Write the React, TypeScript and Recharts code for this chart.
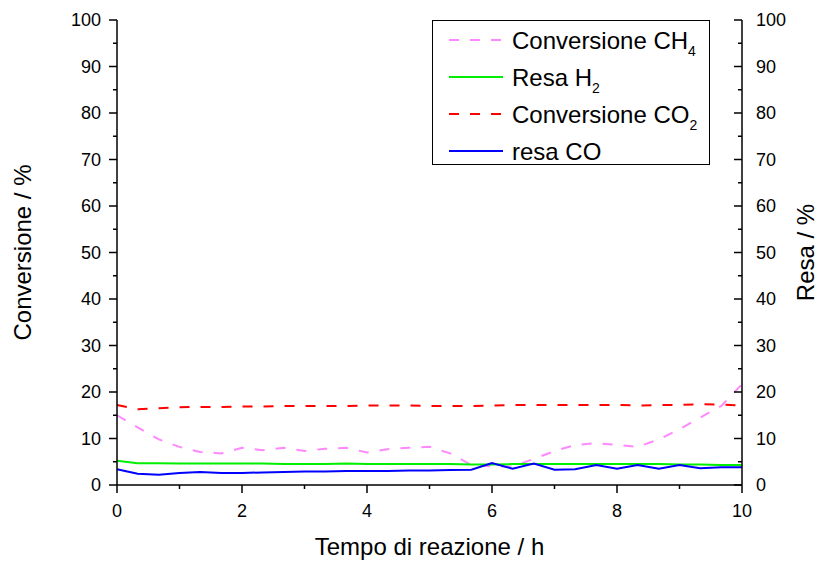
import React from "react";
import { LineChart, Line, XAxis, YAxis, Label } from "recharts";

// reaction time (h), one sample every 20 min
const TIME = [
  0, 0.33, 0.67, 1, 1.33, 1.67, 2, 2.33, 2.67, 3, 3.33, 3.67, 4, 4.33, 4.67, 5,
  5.33, 5.67, 6, 6.33, 6.67, 7, 7.33, 7.67, 8, 8.33, 8.67, 9, 9.33, 9.67, 10,
];

const CONV_CH4 = [
  15.0, 12.4, 9.8, 8.2, 7.1, 6.8, 8.0, 7.5, 8.0, 7.3, 7.8, 8.0, 7.0, 7.7, 8.0,
  8.2, 6.8, 4.3, 4.0, 4.0, 5.6, 7.3, 8.6, 9.0, 8.6, 8.2, 9.8, 12.0, 14.5, 17.0,
  21.7,
];
const RESA_H2 = [
  5.2, 4.7, 4.7, 4.6, 4.6, 4.6, 4.6, 4.6, 4.5, 4.5, 4.5, 4.6, 4.5, 4.5, 4.5,
  4.5, 4.5, 4.4, 4.4, 4.5, 4.5, 4.5, 4.5, 4.5, 4.5, 4.5, 4.5, 4.4, 4.4, 4.3,
  4.3,
];
const CONV_CO2 = [
  17.2, 16.3, 16.5, 16.7, 16.8, 16.8, 16.9, 16.9, 17.0, 17.0, 17.0, 17.0, 17.1,
  17.1, 17.1, 17.0, 17.0, 17.0, 17.1, 17.2, 17.2, 17.2, 17.2, 17.2, 17.2, 17.1,
  17.2, 17.2, 17.4, 17.3, 17.1,
];
const RESA_CO = [
  3.4, 2.4, 2.2, 2.6, 2.8, 2.6, 2.6, 2.7, 2.8, 2.9, 2.9, 3.0, 3.0, 3.0, 3.1,
  3.1, 3.2, 3.3, 4.7, 3.5, 4.6, 3.3, 3.4, 4.3, 3.5, 4.3, 3.5, 4.3, 3.6, 3.8,
  3.8,
];

const X_TICKS = [0, 1, 2, 3, 4, 5, 6, 7, 8, 9, 10];
const Y_TICKS = [
  0, 5, 10, 15, 20, 25, 30, 35, 40, 45, 50, 55, 60, 65, 70, 75, 80, 85, 90, 95,
  100,
];

const FONT = "'Liberation Sans', Arial, Helvetica, sans-serif";
const TICK_FONT = 18;
const TITLE_FONT = 24;

const data = TIME.map((t, i) => ({
  t,
  ch4: CONV_CH4[i],
  h2: RESA_H2[i],
  co2: CONV_CO2[i],
  co: RESA_CO[i],
}));

const LEFT_MARGIN = 16;
const RIGHT_MARGIN = 14;
const BOTTOM_MARGIN = 19;

function LeftTick(props: any) {
  const { x, y, payload } = props;
  const axisX = x + LEFT_MARGIN;
  const major = payload.value % 10 === 0;
  return (
    <g>
      <line x1={axisX - (major ? 8 : 4)} x2={axisX} y1={y} y2={y} stroke="#000" strokeWidth={1.5} />
      {major && (
        <text x={x} y={y} dy="0.355em" textAnchor="end" fontSize={TICK_FONT} fontFamily={FONT} fill="#000">
          {payload.value}
        </text>
      )}
    </g>
  );
}

function RightTick(props: any) {
  const { x, y, payload } = props;
  const axisX = x - RIGHT_MARGIN;
  const major = payload.value % 10 === 0;
  return (
    <g>
      <line x1={axisX - (major ? 8 : 4)} x2={axisX} y1={y} y2={y} stroke="#000" strokeWidth={1.5} />
      {major && (
        <text x={x} y={y} dy="0.355em" textAnchor="start" fontSize={TICK_FONT} fontFamily={FONT} fill="#000">
          {payload.value}
        </text>
      )}
    </g>
  );
}

function BottomTick(props: any) {
  const { x, y, payload } = props;
  const axisY = y - BOTTOM_MARGIN;
  const major = payload.value % 2 === 0;
  return (
    <g>
      <line x1={x} x2={x} y1={axisY} y2={axisY + (major ? 8 : 4)} stroke="#000" strokeWidth={1.5} />
      {major && (
        <text x={x} y={y} dy="0.71em" textAnchor="middle" fontSize={TICK_FONT} fontFamily={FONT} fill="#000">
          {payload.value}
        </text>
      )}
    </g>
  );
}

const LEGEND_ITEMS = [
  { name: "Conversione CH", sub: "4", color: "#ff88ff", dash: "10 11" },
  { name: "Resa H", sub: "2", color: "#00ee00", dash: undefined },
  { name: "Conversione CO", sub: "2", color: "#ff0000", dash: "10 11" },
  { name: "resa CO", sub: "", color: "#0000ff", dash: undefined },
];

function ChartLegend() {
  return (
    <svg width={278} height={145} style={{ display: "block" }}>
      <rect x={0.5} y={0.5} width={277} height={144} fill="#fff" stroke="#000" strokeWidth={1} />
      {LEGEND_ITEMS.map((it, i) => {
        const cy = 20 + i * 37;
        return (
          <g key={it.name + it.sub}>
            <line x1={17} x2={71} y1={cy} y2={cy} stroke={it.color} strokeWidth={2} strokeDasharray={it.dash} />
            <text x={80} y={cy} dy="0.36em" fontSize={TITLE_FONT} fontFamily={FONT} fill="#000">
              {it.name}
              {it.sub && (
                <tspan fontSize={14} dy={7}>
                  {it.sub}
                </tspan>
              )}
            </text>
          </g>
        );
      })}
    </svg>
  );
}

export default function App() {
  return (
    <div style={{ position: "absolute", left: 0, top: 0, width: 821, height: 562, background: "#fff" }}>
      <LineChart
        width={821}
        height={562}
        data={data}
        margin={{ top: 20, right: 0, bottom: 0, left: 0 }}
        style={{ fontFamily: FONT }}
      >
        <XAxis
          dataKey="t"
          type="number"
          domain={[0, 10]}
          ticks={X_TICKS}
          interval={0}
          height={77}
          stroke="#000"
          strokeWidth={1.5}
          tickLine={false}
          tickSize={0}
          tickMargin={BOTTOM_MARGIN}
          tick={<BottomTick />}
        >
          <Label
            content={(p: any) => {
              const vb = p.viewBox;
              return (
                <text x={vb.x + vb.width / 2} y={vb.y + 70} textAnchor="middle" fontSize={TITLE_FONT} fontFamily={FONT} fill="#000">
                  Tempo di reazione / h
                </text>
              );
            }}
          />
        </XAxis>
        <YAxis
          yAxisId="conv"
          orientation="left"
          domain={[0, 100]}
          ticks={Y_TICKS}
          interval={0}
          width={117}
          stroke="#000"
          strokeWidth={1.5}
          tickLine={false}
          tickSize={0}
          tickMargin={LEFT_MARGIN}
          tick={<LeftTick />}
        >
          <Label
            content={(p: any) => {
              const vb = p.viewBox;
              const cx = vb.x + 22;
              const cy = vb.y + vb.height / 2;
              return (
                <text x={cx} y={cy} dy="0.36em" textAnchor="middle" transform={`rotate(-90 ${cx} ${cy})`} fontSize={TITLE_FONT} fontFamily={FONT} fill="#000">
                  Conversione / %
                </text>
              );
            }}
          />
        </YAxis>
        <YAxis
          yAxisId="resa"
          orientation="right"
          domain={[0, 100]}
          ticks={Y_TICKS}
          interval={0}
          width={79}
          stroke="#000"
          strokeWidth={1.5}
          tickLine={false}
          tickSize={0}
          tickMargin={RIGHT_MARGIN}
          tick={<RightTick />}
        >
          <Label
            content={(p: any) => {
              const vb = p.viewBox;
              const cx = vb.x + 63;
              const cy = vb.y + vb.height / 2;
              return (
                <text x={cx} y={cy} dy="0.36em" textAnchor="middle" transform={`rotate(-90 ${cx} ${cy})`} fontSize={TITLE_FONT} fontFamily={FONT} fill="#000">
                  Resa / %
                </text>
              );
            }}
          />
        </YAxis>
        <Line
          yAxisId="conv"
          dataKey="ch4"
          type="linear"
          stroke="#ff88ff"
          strokeWidth={2}
          strokeDasharray="10 11"
          dot={false}
          isAnimationActive={false}
        />
        <Line
          yAxisId="resa"
          dataKey="h2"
          type="linear"
          stroke="#00ee00"
          strokeWidth={2}
          dot={false}
          isAnimationActive={false}
        />
        <Line
          yAxisId="conv"
          dataKey="co2"
          type="linear"
          stroke="#ff0000"
          strokeWidth={2}
          strokeDasharray="10 11"
          dot={false}
          isAnimationActive={false}
        />
        <Line
          yAxisId="resa"
          dataKey="co"
          type="linear"
          stroke="#0000ff"
          strokeWidth={2}
          dot={false}
          isAnimationActive={false}
        />
      </LineChart>
      <div style={{ position: "absolute", left: 432, top: 20 }}>
        <ChartLegend />
      </div>
    </div>
  );
}
